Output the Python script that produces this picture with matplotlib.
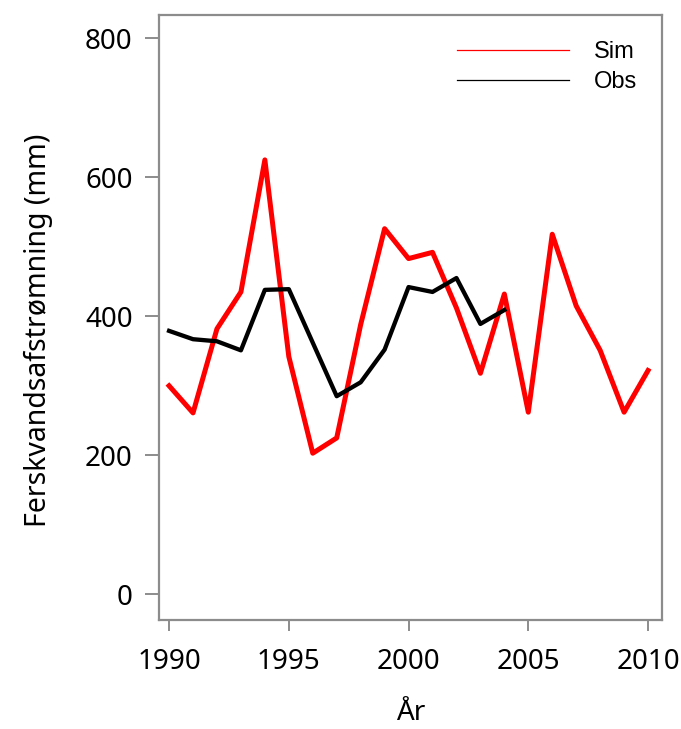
import matplotlib
matplotlib.use("Agg")
import matplotlib.pyplot as plt

# values
years_sim = list(range(1990, 2011))
sim = [300, 261, 382, 435, 625, 342, 203, 225, 388, 526, 483, 492, 412, 318,
       432, 262, 518, 415, 351, 262, 322]
years_obs = list(range(1990, 2005))
obs = [379, 367, 364, 351, 438, 439, 362, 285, 305, 352, 442, 435, 455, 389, 409]

xticks = [1990, 1995, 2000, 2005, 2010]
yticks = [0, 200, 400, 600, 800]

plt.rcParams['font.family'] = ['Noto Sans', 'DejaVu Sans']
grey = '#8c8c8c'

fig = plt.figure(figsize=(6.81, 7.29), dpi=100)
ax = fig.add_axes([0.2335, 0.1495, 0.7385, 0.8295])

ax.plot(years_sim, sim, color='#ff0000', lw=3.6, label='Sim')
ax.plot(years_obs, obs, color='black', lw=3.1, label='Obs')

ax.set_xlim(1989.58, 2010.58)
ax.set_ylim(-37, 833)
ax.set_xticks(xticks)
ax.set_yticks(yticks)

for s in ax.spines.values():
    s.set_color(grey)
    s.set_linewidth(1.6)
ax.tick_params(axis='both', colors=grey, width=1.4, labelcolor='black',
               labelsize=20)
ax.tick_params(axis='y', length=10, pad=9)
ax.tick_params(axis='x', length=8, pad=12)

ax.set_ylabel('Ferskvandsafstrømning (mm)', fontsize=20.5)
ax.yaxis.set_label_coords(-0.211, 0.479)
ax.set_xlabel('År', fontsize=20, labelpad=17)

leg = ax.legend(loc='upper right', frameon=False, handlelength=4.75,
                handletextpad=1.06, labelspacing=0.36,
                prop={'family': 'Liberation Sans', 'size': 17},
                bbox_to_anchor=(0.993, 0.993))
for h in leg.get_lines():
    h.set_linewidth(0.9)

fig.savefig('out.png', dpi=100)
